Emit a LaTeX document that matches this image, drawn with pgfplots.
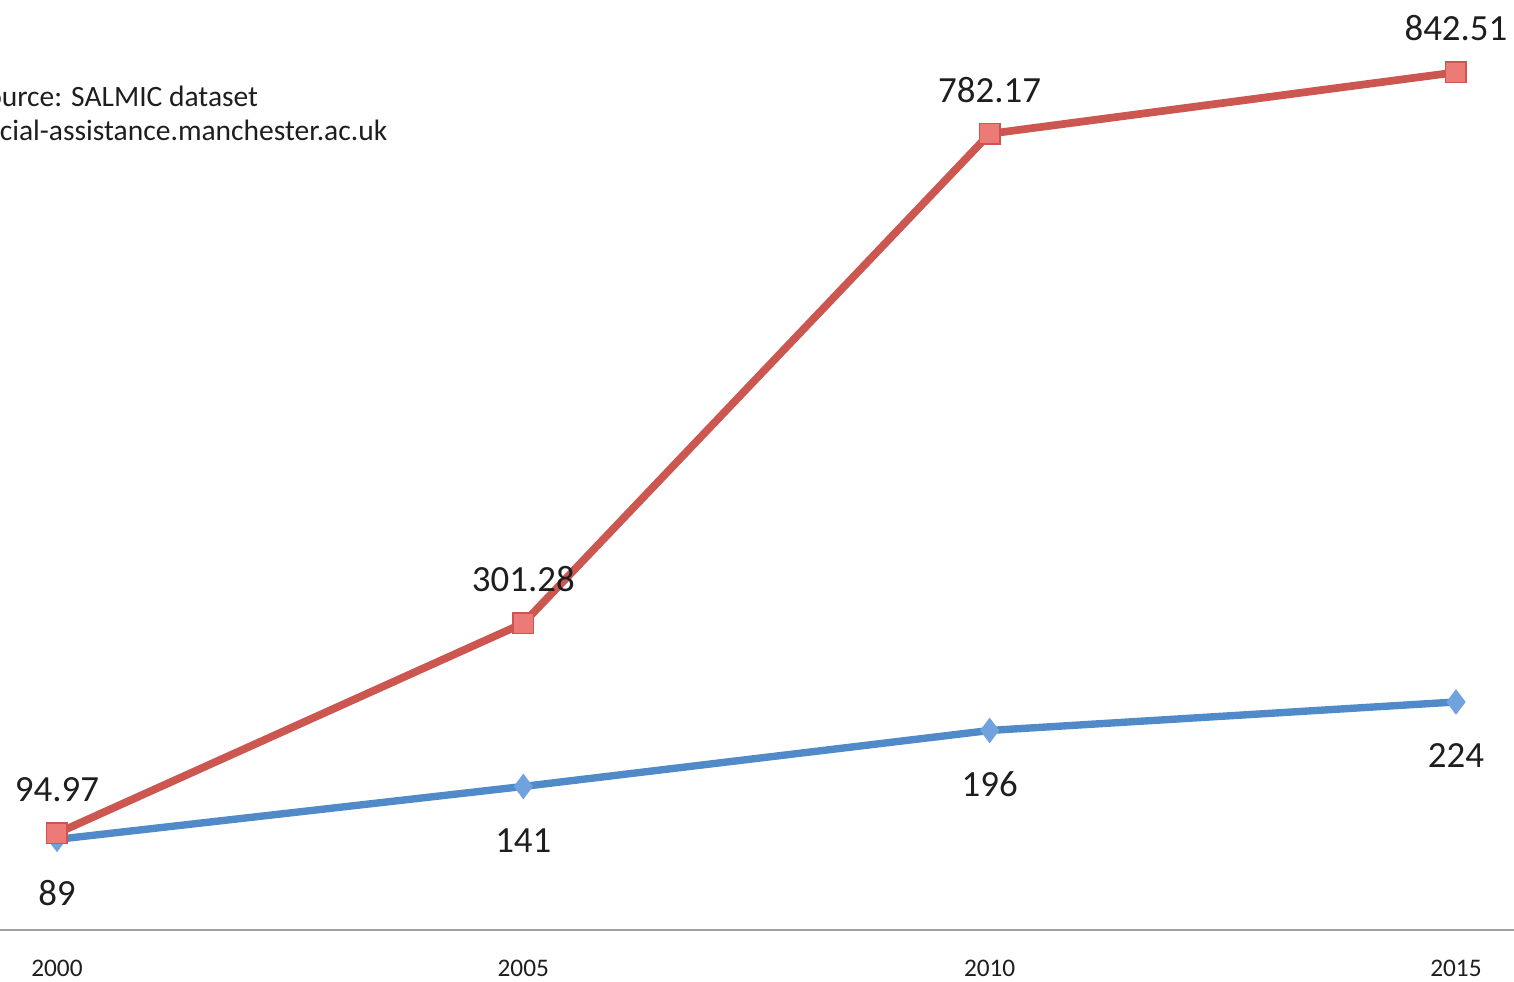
\documentclass[border=0pt]{standalone}
\usepackage{pgfplots}
\pgfplotsset{compat=1.18}
\usepackage{fontspec}
\setmainfont{Carlito}
\definecolor{redline}{RGB}{204,86,80}
\definecolor{redfill}{RGB}{236,122,118}
\definecolor{redborder}{RGB}{205,85,80}
\definecolor{blueline}{RGB}{80,138,200}
\definecolor{bluefill}{RGB}{112,162,222}
\definecolor{txt}{RGB}{30,30,30}
\begin{document}
\begin{tikzpicture}
\path[use as bounding box] (0,-0.52) rectangle (15.14,9.30);
\begin{axis}[
  at={(0,0)}, anchor=south west,
  scale only axis, width=15.14cm, height=9.30cm,
  xmin=-0.1222, xmax=3.1244, ymin=0, ymax=913.6,
  axis x line=bottom, axis y line=none,
  x axis line style={-, draw={rgb,255:red,160;green,160;blue,160}, line width=0.6pt},
  xtick={0,1,2,3}, xticklabels={2000,2005,2010,2015},
  major tick length=0pt,
  xticklabel style={font=\fontsize{7.2}{8}\selectfont, text=txt, yshift=-5pt},
  clip=false,
  nodes near coords, point meta=explicit symbolic,
  every node near coord/.append style={anchor=center, font=\fontsize{10.5}{12}\selectfont, text=txt},
]
\addplot[blueline, line width=2.1pt, mark=diamond*, mark size=3.4pt,
  mark options={fill=bluefill, draw=bluefill, line width=0.3pt},
  every node near coord/.append style={yshift=-15.3pt}]
  coordinates {(0,89) [89] (1,141) [141] (2,196) [196] (3,224) [224]};
\addplot[redline, line width=2.2pt, mark=square*, mark size=2.9pt,
  mark options={fill=redfill, draw=redborder, line width=0.4pt},
  every node near coord/.append style={yshift=12.5pt}]
  coordinates {(0,94.97) [94.97] (1,301.28) [301.28] (2,782.17) [782.17] (3,842.51) [842.51]};
\end{axis}
\node[anchor=base west, inner sep=0, font=\fontsize{8.4}{9}\selectfont, text=txt] at (-0.28,8.23) {Source: SALMIC dataset};
\node[anchor=base west, inner sep=0, font=\fontsize{8.4}{9}\selectfont, text=txt] at (-0.28,7.89) {social-assistance.manchester.ac.uk};
\end{tikzpicture}
\end{document}
